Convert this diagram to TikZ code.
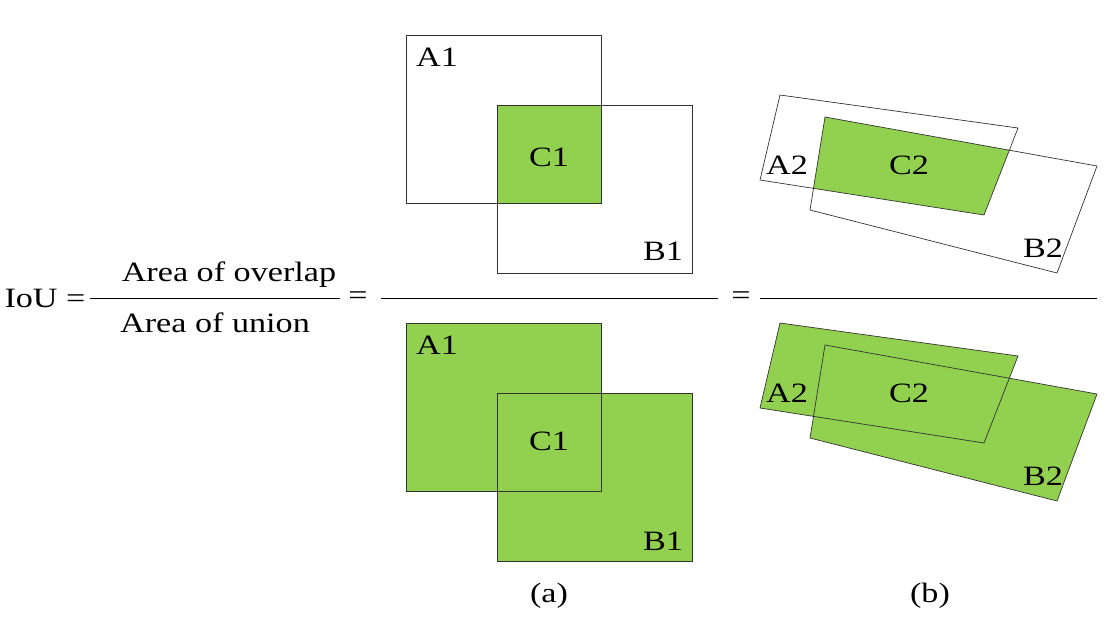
\documentclass[tikz,border=0pt]{standalone}
\usepackage{fontspec}
\setmainfont{Liberation Serif}
\begin{document}
\begin{tikzpicture}[x=1pt,y=-1pt,
  box/.style={draw=black!80,line width=0.7pt},
  gr/.style={fill={rgb,255:red,146;green,208;blue,80}},
  lbl/.style={font=\fontsize{28}{32}\selectfont,inner sep=0pt,xscale=1.22},
  frac/.style={line width=0.8pt}]
\useasboundingbox (0,0) rectangle (1119,619);
% (a) top
\fill[gr] (497,105) rectangle (601,203);
\draw[box] (406,35) rectangle (601,203);
\draw[box] (497,105) rectangle (692,273);
\node[lbl] (a1t) at (437,57) {A1};
\node[lbl] (c1t) at (549,157) {C1};
\node[lbl] (b1t) at (663,251) {B1};
% (a) bottom
\fill[gr] (406,323) rectangle (601,491);
\fill[gr] (497,393) rectangle (692,561);
\draw[box] (406,323) rectangle (601,491);
\draw[box] (497,393) rectangle (692,561);
\node[lbl] (a1b) at (437,345) {A1};
\node[lbl] (c1b) at (549,441) {C1};
\node[lbl] (b1b) at (663,541) {B1};
% (b) top
\begin{scope}
\clip (780,95) -- (1018,128) -- (984,215) -- (760,180) -- cycle;
\fill[gr] (825,117) -- (1097,166) -- (1057,273) -- (810,210) -- cycle;
\end{scope}
\draw[box] (780,95) -- (1018,128) -- (984,215) -- (760,180) -- cycle;
\draw[box] (825,117) -- (1097,166) -- (1057,273) -- (810,210) -- cycle;
\node[lbl] (a2t) at (787,165) {A2};
\node[lbl] (c2t) at (909,165) {C2};
\node[lbl] (b2t) at (1043,248) {B2};
% (b) bottom
\begin{scope}[yshift=-228pt]
\fill[gr] (780,95) -- (1018,128) -- (984,215) -- (760,180) -- cycle;
\fill[gr] (825,117) -- (1097,166) -- (1057,273) -- (810,210) -- cycle;
\draw[box] (780,95) -- (1018,128) -- (984,215) -- (760,180) -- cycle;
\draw[box] (825,117) -- (1097,166) -- (1057,273) -- (810,210) -- cycle;
\node[lbl] (a2b) at (787,165) {A2};
\node[lbl] (c2b) at (909,165) {C2};
\node[lbl] (b2b) at (1043,248) {B2};
\end{scope}
% formula
\node[lbl] (iou) at (45,298) {IoU =};
\node[lbl] (num) at (229,275) {Area of overlap};
\node[lbl] (den) at (215,323) {Area of union};
\draw[frac] (90,298) -- (340,298);
\node[lbl] (eq1) at (358,298) {=};
\draw[frac] (381,298) -- (718,298);
\node[lbl] (eq2) at (741,298) {=};
\draw[frac] (760,298) -- (1097,298);
\node[lbl] (la) at (549,596) {(a)};
\node[lbl] (lb) at (930,596) {(b)};
\end{tikzpicture}
\end{document}
